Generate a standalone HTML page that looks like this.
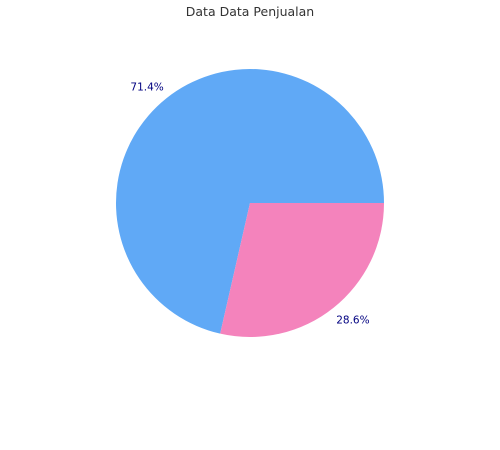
<!DOCTYPE html>
<html><head><meta charset="utf-8"><style>
html,body{margin:0;padding:0;background:#fff;}
svg{display:block;font-family:"DejaVu Sans","Liberation Sans",sans-serif;}
</style></head><body>
<svg id="chart" width="500" height="450">
<text x="250" y="16" text-anchor="middle" font-size="12.5" fill="#333">Data Data Penjualan</text>
<g id="slices"></g>
</svg>
<script>
const categories = ["Kategori A", "Kategori B"];
const values = [5, 2];
const colors = ["#60a9f6", "#f483bc"];
const cx = 250, cy = 203, r = 134;
const ns = "http://www.w3.org/2000/svg";
const g = document.getElementById("slices");
const total = values.reduce((a,b)=>a+b,0);
let start = 0;
values.forEach((v,i)=>{
  const sweep = v/total*2*Math.PI;
  const a0 = start, a1 = start + sweep;
  const x0 = cx + r*Math.cos(a0), y0 = cy - r*Math.sin(a0);
  const x1 = cx + r*Math.cos(a1), y1 = cy - r*Math.sin(a1);
  const large = sweep > Math.PI ? 1 : 0;
  const p = document.createElementNS(ns,"path");
  p.setAttribute("d",`M${cx},${cy} L${x0},${y0} A${r},${r} 0 ${large} 0 ${x1},${y1} Z`);
  p.setAttribute("fill",colors[i]);
  
  
  g.appendChild(p);
  const mid = (a0+a1)/2;
  const c = Math.cos(mid), s = Math.sin(mid);
  const t = document.createElementNS(ns,"text");
  t.setAttribute("x", cx + r*1.16*c + 6*Math.sign(c));
  t.setAttribute("y", cy - r*1.16*s + 4 + 5*Math.sign(s));
  t.setAttribute("text-anchor","middle");
  t.setAttribute("font-size","10.5");
  t.setAttribute("fill","#000080");
  t.textContent = (v/total*100).toFixed(1) + "%";
  
  
  g.appendChild(t);
  start = a1;
});
</script>
</body></html>
